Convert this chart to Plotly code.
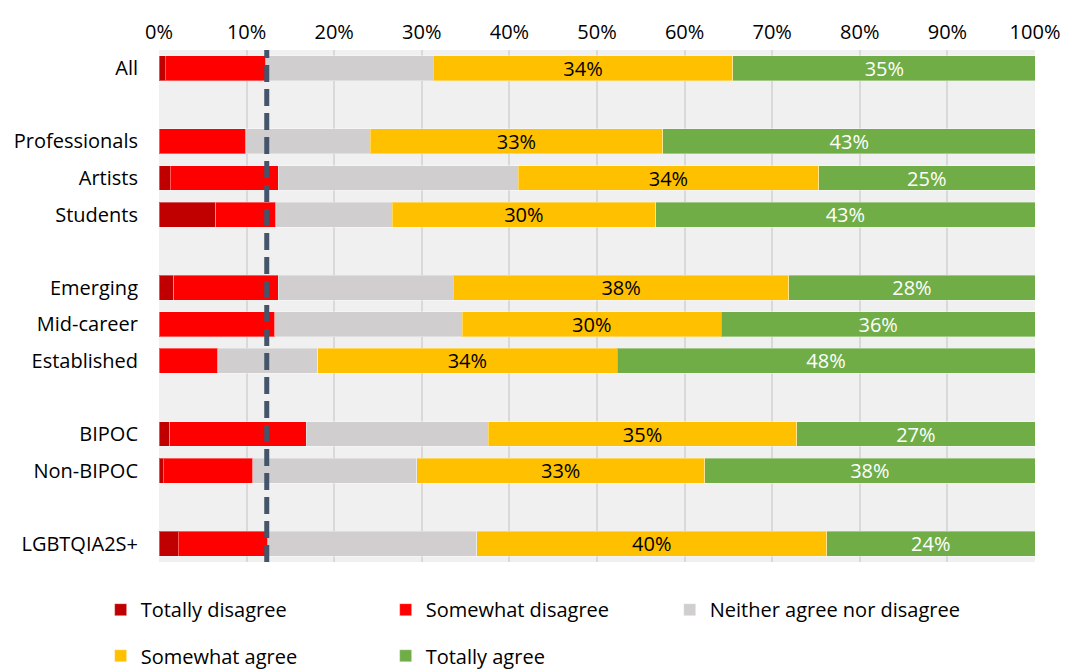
import plotly.graph_objects as go

categories = ["All", "Professionals", "Artists", "Students", "Emerging",
              "Mid-career", "Established", "BIPOC", "Non-BIPOC", "LGBTQIA2S+"]
row_pos = [0, 2, 3, 4, 6, 7, 8, 10, 11, 13]

totally_disagree = [0.7, 0.0, 1.3, 6.5, 1.7, 0.0, 0.0, 1.2, 0.5, 2.2]
somewhat_disagree = [11.5, 9.9, 12.3, 6.8, 11.9, 13.2, 6.7, 15.6, 10.2, 10.2]
neither = [19.1, 14.2, 27.4, 13.3, 20.0, 21.4, 11.4, 20.8, 18.7, 23.9]
somewhat_agree = [34.2, 33.4, 34.3, 30.1, 38.3, 29.6, 34.2, 35.2, 32.9, 39.9]
totally_agree = [34.6, 42.6, 24.7, 43.3, 28.1, 35.8, 47.7, 27.2, 37.7, 23.8]

reference_line = 12.3  # overall disagreement level (%)

series = [
    ("Totally disagree", totally_disagree, "#C00000", False, None, "legend"),
    ("Somewhat disagree", somewhat_disagree, "#FF0000", False, None, "legend"),
    ("Neither agree nor disagree", neither, "#D0CECE", False, None, "legend3"),
    ("Somewhat agree", somewhat_agree, "#FFC000", True, "#000000", "legend2"),
    ("Totally agree", totally_agree, "#70AD47", True, "#FFFFFF", "legend2"),
]

FONT = "'Open Sans', 'Noto Sans', sans-serif"
FS = 20

fig = go.Figure()
for name, vals, color, labeled, tcolor, leg in series:
    fig.add_trace(go.Bar(
        name=name,
        y=row_pos,
        x=vals,
        orientation="h",
        width=0.68,
        legend=leg,
        marker=dict(color=color, line=dict(color="rgba(255,255,255,0.35)", width=1)),
        text=[f"{v:.0f}%" for v in vals] if labeled else None,
        textposition="inside" if labeled else "none",
        insidetextanchor="middle",
        constraintext="none",
        textfont=dict(color=tcolor, size=FS, family=FONT) if labeled else None,
        hoverinfo="x+name",
    ))

fig.add_shape(
    type="line", xref="x", yref="paper",
    x0=reference_line, x1=reference_line, y0=0, y1=1,
    line=dict(color="#44546A", width=5, dash="17px,7px"),
    layer="above",
)

legend_common = dict(
    orientation="h",
    xanchor="left", yanchor="top",
    font=dict(size=FS, family=FONT, color="#000000"),
    traceorder="normal",
    itemwidth=30,
    bgcolor="rgba(0,0,0,0)",
)

fig.update_layout(
    barmode="stack",
    width=1067, height=669,
    margin=dict(l=159, r=32, t=50, b=107, autoexpand=False),
    paper_bgcolor="white",
    plot_bgcolor="#F0F0F0",
    font=dict(family=FONT, size=FS, color="#000000"),
    legend=dict(x=-0.0666, y=-0.055, entrywidth=240, entrywidthmode="pixels", **legend_common),
    legend2=dict(x=-0.0666, y=-0.145, entrywidth=240, entrywidthmode="pixels", **legend_common),
    legend3=dict(x=0.583, y=-0.055, **legend_common),
    showlegend=True,
)

fig.update_xaxes(
    side="top",
    range=[0, 100],
    tickvals=[0, 10, 20, 30, 40, 50, 60, 70, 80, 90, 100],
    ticktext=[f"{v}%" for v in range(0, 101, 10)],
    showgrid=True, gridcolor="#D9D9D9", gridwidth=2,
    zeroline=False, showline=False,
    ticks="", ticklabelstandoff=6,
    tickfont=dict(size=FS, family=FONT),
    automargin=False,
    fixedrange=True,
)
fig.update_yaxes(
    range=[13.5, -0.5],
    tickvals=row_pos,
    ticktext=categories,
    showgrid=False, zeroline=False, showline=False,
    ticks="", ticklabelstandoff=20,
    tickfont=dict(size=FS, family=FONT),
    automargin=False,
    fixedrange=True,
)

fig.write_html(
    "out.html",
    config={"displayModeBar": False},
    post_script="document.body.style.margin='0px';document.body.style.overflow='hidden';",
)
